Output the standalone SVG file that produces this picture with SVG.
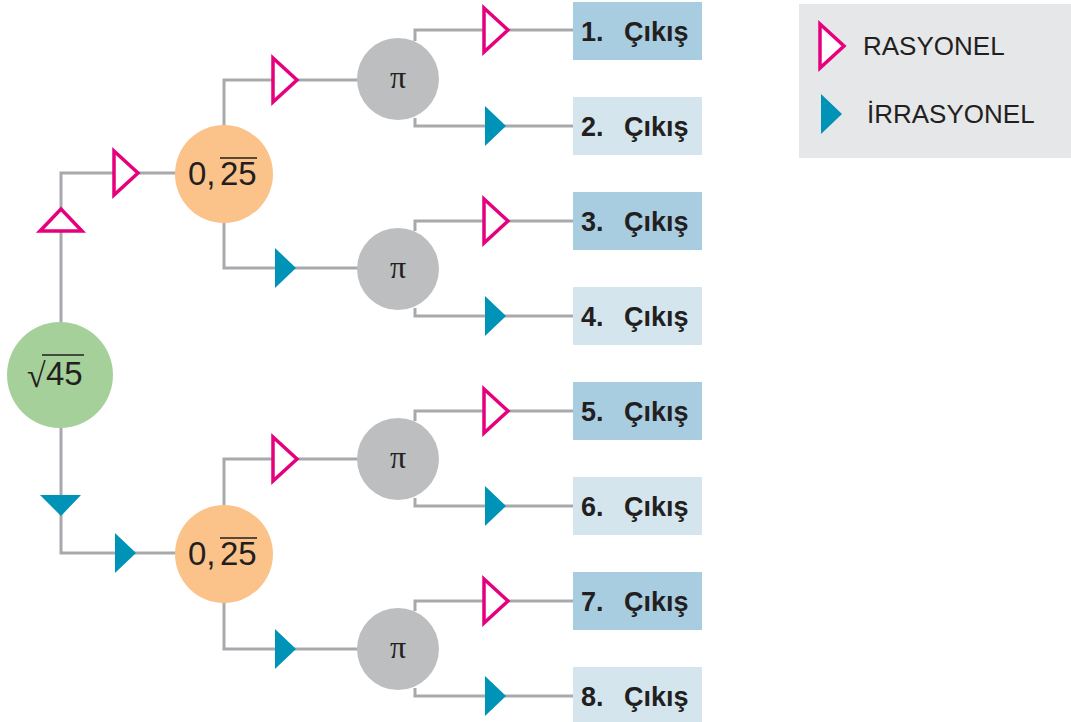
<svg xmlns="http://www.w3.org/2000/svg" width="1071" height="722" viewBox="0 0 1071 722">
<defs>
<style>
.ln{fill:none;stroke:#a7a9ac;stroke-width:3}
.rh{fill:#fff;stroke:#e6007e;stroke-width:3.5;stroke-linejoin:miter}
.ir{fill:#0093b8}
.box1{fill:#a8cce0}
.box2{fill:#d4e5ee}
.out{font-family:"Liberation Sans",Arial,sans-serif;font-weight:bold;font-size:27px;fill:#231f20}
.num{font-family:"Liberation Sans",Arial,sans-serif;font-size:33px;fill:#231f20}
.pi{font-family:"Liberation Serif","Times New Roman",serif;font-size:32px;fill:#231f20}
.leg{font-family:"Liberation Sans",Arial,sans-serif;font-size:26px;fill:#231f20}
.ov{stroke:#231f20;stroke-width:1.6}
</style>
<polygon id="tr" points="0,-22 24,0 0,22"/>
<polygon id="tf" points="0,-20 21,0 0,20"/>
</defs>
<g id="connectors">
<path class="ln" d="M61,322 V173 H176"/>
<path class="ln" d="M61,427 V553 H176"/>
<path class="ln" d="M224,125 V80 H358"/>
<path class="ln" d="M224,222 V268 H358"/>
<path class="ln" d="M224,505 V459 H358"/>
<path class="ln" d="M224,602 V649 H358"/>
<path class="ln" d="M415,41 V30 H573"/>
<path class="ln" d="M415,118 V126 H573"/>
<path class="ln" d="M415,231 V221 H573"/>
<path class="ln" d="M415,308 V316 H573"/>
<path class="ln" d="M415,421 V411 H573"/>
<path class="ln" d="M415,498 V506 H573"/>
<path class="ln" d="M415,611 V601 H573"/>
<path class="ln" d="M415,688 V696 H573"/>
<polygon class="rh" points="40,231 61,209 82,231"/>
<use href="#tr" class="rh" x="114" y="173"/>
<polygon class="ir" points="40,495 81,495 61,516"/>
<use href="#tf" class="ir" x="115" y="553"/>
<use href="#tr" class="rh" x="273" y="80"/>
<use href="#tf" class="ir" x="275" y="268"/>
<use href="#tr" class="rh" x="273" y="459"/>
<use href="#tf" class="ir" x="275" y="649"/>
<use href="#tr" class="rh" x="484" y="30"/>
<use href="#tf" class="ir" x="485" y="126"/>
<use href="#tr" class="rh" x="484" y="221"/>
<use href="#tf" class="ir" x="485" y="316"/>
<use href="#tr" class="rh" x="484" y="411"/>
<use href="#tf" class="ir" x="485" y="506"/>
<use href="#tr" class="rh" x="484" y="601"/>
<use href="#tf" class="ir" x="485" y="696"/>
</g>
<g id="root">
<circle cx="60" cy="375" r="53" fill="#a5d09a"/>
<text x="27" y="387" font-family="Liberation Serif,serif" font-size="34" fill="#231f20">√</text>
<text class="num" x="46" y="385">45</text>
<line class="ov" x1="42" y1="355" x2="84" y2="355"/>
</g>
<g id="n025a">
<circle cx="224" cy="174" r="49" fill="#fbc389"/>
<text class="num" x="188" y="185">0,</text>
<text class="num" x="220" y="185">25</text>
<line class="ov" x1="220" y1="158" x2="257" y2="158"/>
</g>
<g id="n025b">
<circle cx="224" cy="554" r="49" fill="#fbc389"/>
<text class="num" x="188" y="565">0,</text>
<text class="num" x="220" y="565">25</text>
<line class="ov" x1="220" y1="538" x2="257" y2="538"/>
</g>
<g id="pi1"><circle cx="398" cy="79" r="41" fill="#bcbec0"/><text class="pi" x="398" y="88" text-anchor="middle">π</text></g>
<g id="pi2"><circle cx="398" cy="269" r="41" fill="#bcbec0"/><text class="pi" x="398" y="278" text-anchor="middle">π</text></g>
<g id="pi3"><circle cx="398" cy="459" r="41" fill="#bcbec0"/><text class="pi" x="398" y="468" text-anchor="middle">π</text></g>
<g id="pi4"><circle cx="398" cy="649" r="41" fill="#bcbec0"/><text class="pi" x="398" y="658" text-anchor="middle">π</text></g>
<g id="out1"><rect class="box1" x="573" y="2" width="129" height="58"/><text class="out" x="581" y="41">1.</text><text class="out" x="624" y="41">Çıkış</text></g>
<g id="out2"><rect class="box2" x="573" y="97" width="129" height="58"/><text class="out" x="581" y="136">2.</text><text class="out" x="624" y="136">Çıkış</text></g>
<g id="out3"><rect class="box1" x="573" y="192" width="129" height="58"/><text class="out" x="581" y="231">3.</text><text class="out" x="624" y="231">Çıkış</text></g>
<g id="out4"><rect class="box2" x="573" y="287" width="129" height="58"/><text class="out" x="581" y="326">4.</text><text class="out" x="624" y="326">Çıkış</text></g>
<g id="out5"><rect class="box1" x="573" y="382" width="129" height="58"/><text class="out" x="581" y="421">5.</text><text class="out" x="624" y="421">Çıkış</text></g>
<g id="out6"><rect class="box2" x="573" y="477" width="129" height="58"/><text class="out" x="581" y="516">6.</text><text class="out" x="624" y="516">Çıkış</text></g>
<g id="out7"><rect class="box1" x="573" y="572" width="129" height="58"/><text class="out" x="581" y="611">7.</text><text class="out" x="624" y="611">Çıkış</text></g>
<g id="out8"><rect class="box2" x="573" y="667" width="129" height="58"/><text class="out" x="581" y="706">8.</text><text class="out" x="624" y="706">Çıkış</text></g>
<g id="legend">
<rect x="799" y="4" width="272" height="154" fill="#e6e7e9"/>
<use href="#tr" class="rh" x="820" y="46"/>
<text class="leg" x="863" y="55">RASYONEL</text>
<use href="#tf" class="ir" x="821" y="114"/>
<text class="leg" x="867" y="123">İRRASYONEL</text>
</g>
</svg>
